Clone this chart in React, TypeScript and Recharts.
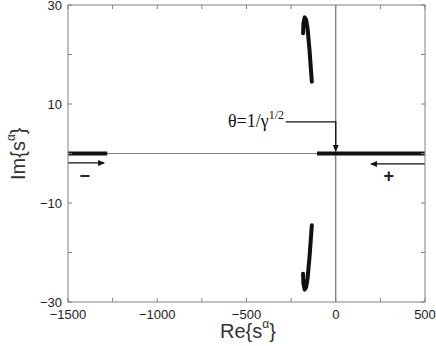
import React from 'react';
import { ComposedChart, Line, Scatter, XAxis, YAxis, ReferenceLine } from 'recharts';

const reTicks = [-1500, -1250, -1000, -750, -500, -250, 0, 250, 500];
const imTicks = [-30, -20, -10, 0, 10, 20, 30];
const reLabelled = [-1500, -1000, -500, 0, 500];
const imLabelled = [-30, -10, 10, 30];

// thick branches on the real axis
const negBranch = [{ re: -1500, im: 0 }, { re: -1280, im: 0 }];
const posBranch = [{ re: -105, im: 0 }, { re: 500, im: 0 }];

// complex pair (hook shapes)
const upperPath = [
  { re: -183, im: 24.3 },
  { re: -181, im: 26.3 },
  { re: -174, im: 27.5 },
  { re: -166, im: 27.0 },
  { re: -158, im: 25.3 },
  { re: -147, im: 20.9 },
  { re: -134, im: 14.5 },
];
const lowerPath = upperPath.map((p) => ({ re: p.re, im: -p.im }));

// direction arrows
const negArrow = [{ re: -1500, im: -1.9 }, { re: -1300, im: -1.9 }];
const posArrow = [{ re: 500, im: -2.1 }, { re: 200, im: -2.1 }];
const thetaPointer = [{ re: -280, im: 6.4 }, { re: 0, im: 6.4 }, { re: 0, im: 1.2 }];
const arrowHeads = [
  { re: -1292, im: -1.9, dir: 'right' },
  { re: 192, im: -2.1, dir: 'left' },
  { re: 0, im: 0.3, dir: 'down' },
];

const signs = [
  { re: -1406, im: -4.6, text: '\u2212' },
  { re: 297, im: -4.6, text: '+' },
];
const thetaNote = [{ re: -290, im: 6.4 }];

const axisGrey = '#808080';
const sans = '"Liberation Sans", Arial, Helvetica, sans-serif';
const serif = '"Liberation Serif", "Times New Roman", serif';

const fmt = (v: number) => (v < 0 ? '\u2212' + Math.abs(v) : String(v));

const BottomTick = (props: any) => {
  const { x, y, payload } = props;
  const v = payload.value;
  return (
    <g>
      <line x1={x} y1={y} x2={x} y2={y - 4} stroke={axisGrey} />
      {reLabelled.includes(v) && (
        <text x={x} y={y + 17} textAnchor="middle" fontFamily={sans} fontSize={13} fill="#222">
          {fmt(v)}
        </text>
      )}
    </g>
  );
};

const TopTick = (props: any) => {
  const { x, y } = props;
  return <line x1={x} y1={y} x2={x} y2={y + 4} stroke={axisGrey} />;
};

const LeftTick = (props: any) => {
  const { x, y, payload } = props;
  const v = payload.value;
  return (
    <g>
      <line x1={x} y1={y} x2={x + 4} y2={y} stroke={axisGrey} />
      {imLabelled.includes(v) && (
        <text x={x - 6} y={y + 5} textAnchor="end" fontFamily={sans} fontSize={13} fill="#222">
          {fmt(v)}
        </text>
      )}
    </g>
  );
};

const RightTick = (props: any) => {
  const { x, y } = props;
  return <line x1={x} y1={y} x2={x - 4} y2={y} stroke={axisGrey} />;
};

const ArrowHead = (props: any) => {
  const { cx, cy, payload } = props;
  const d = payload.dir;
  let pts = '';
  if (d === 'right') pts = `${cx},${cy} ${cx - 7},${cy - 3} ${cx - 7},${cy + 3}`;
  else if (d === 'left') pts = `${cx},${cy} ${cx + 7},${cy - 3} ${cx + 7},${cy + 3}`;
  else pts = `${cx},${cy} ${cx - 3},${cy - 7} ${cx + 3},${cy - 7}`;
  return <polygon points={pts} fill="#111" />;
};

const SignMark = (props: any) => {
  const { cx, cy, payload } = props;
  return (
    <text x={cx} y={cy + 6} textAnchor="middle" fontFamily={sans} fontSize={18} fontWeight="bold" fill="#222">
      {payload.text}
    </text>
  );
};

const ThetaText = (props: any) => {
  const { cx, cy } = props;
  return (
    <text x={cx} y={cy + 5} textAnchor="end" fontFamily={serif} fontSize={18} fill="#111">
      θ=1/γ
      <tspan dy={-8} fontSize={12}>1/2</tspan>
    </text>
  );
};

const ReLabel = () => (
  <text x={220} y={338} fontFamily={sans} fontSize={20} fill="#333">
    Re{'{'}s
    <tspan dy={-10} fontSize={12}>α</tspan>
    <tspan dy={10}>{'}'}</tspan>
  </text>
);

const ImLabel = () => (
  <text x={0} y={0} transform="translate(25,180) rotate(-90)" fontFamily={sans} fontSize={20} fill="#333">
    Im{'{'}s
    <tspan dy={-10} fontSize={12}>α</tspan>
    <tspan dy={10}>{'}'}</tspan>
  </text>
);

export default function App() {
  return (
    <div style={{ position: 'absolute', left: 0, top: 0, width: 436, height: 346, background: '#fff' }}>
      <ComposedChart width={436} height={346} margin={{ top: 4, right: 10, bottom: 0, left: 0 }}>
        <XAxis
          dataKey="re"
          type="number"
          domain={[-1500, 500]}
          ticks={reTicks}
          interval={0}
          tickSize={0}
          tickMargin={0}
          tickLine={false}
          tick={<BottomTick />}
          stroke={axisGrey}
          height={44}
          allowDataOverflow
          label={{ content: <ReLabel /> }}
        />
        <XAxis
          xAxisId="top"
          orientation="top"
          dataKey="re"
          type="number"
          domain={[-1500, 500]}
          ticks={reTicks}
          interval={0}
          tickSize={0}
          tickMargin={0}
          tickLine={false}
          tick={<TopTick />}
          stroke={axisGrey}
          height={1}
          allowDataOverflow
        />
        <YAxis
          dataKey="im"
          type="number"
          domain={[-30, 30]}
          ticks={imTicks}
          interval={0}
          tickSize={0}
          tickMargin={0}
          tickLine={false}
          tick={<LeftTick />}
          stroke={axisGrey}
          width={68}
          allowDataOverflow
          label={{ content: <ImLabel /> }}
        />
        <YAxis
          yAxisId="right"
          orientation="right"
          dataKey="im"
          type="number"
          domain={[-30, 30]}
          ticks={imTicks}
          interval={0}
          tickSize={0}
          tickMargin={0}
          tickLine={false}
          tick={<RightTick />}
          stroke={axisGrey}
          width={1}
          allowDataOverflow
        />
        <ReferenceLine x={0} stroke="#555" strokeWidth={1} />
        <ReferenceLine y={0} stroke={axisGrey} strokeWidth={1} />
        <Line data={negBranch} dataKey="im" stroke="#111" strokeWidth={4} dot={false} isAnimationActive={false} />
        <Line data={posBranch} dataKey="im" stroke="#111" strokeWidth={4} dot={false} isAnimationActive={false} />
        <Line data={upperPath} dataKey="im" type="linear" stroke="#111" strokeWidth={4} strokeLinecap="round" strokeLinejoin="round" dot={false} isAnimationActive={false} />
        <Line data={lowerPath} dataKey="im" type="linear" stroke="#111" strokeWidth={4} strokeLinecap="round" strokeLinejoin="round" dot={false} isAnimationActive={false} />
        <Line data={negArrow} dataKey="im" stroke="#111" strokeWidth={1.3} dot={false} isAnimationActive={false} />
        <Line data={posArrow} dataKey="im" stroke="#111" strokeWidth={1.3} dot={false} isAnimationActive={false} />
        <Line data={thetaPointer} dataKey="im" stroke="#111" strokeWidth={1.3} dot={false} isAnimationActive={false} />
        <Scatter data={arrowHeads} dataKey="im" shape={<ArrowHead />} isAnimationActive={false} />
        <Scatter data={signs} dataKey="im" shape={<SignMark />} isAnimationActive={false} />
        <Scatter data={thetaNote} dataKey="im" shape={<ThetaText />} isAnimationActive={false} />
      </ComposedChart>
    </div>
  );
}
